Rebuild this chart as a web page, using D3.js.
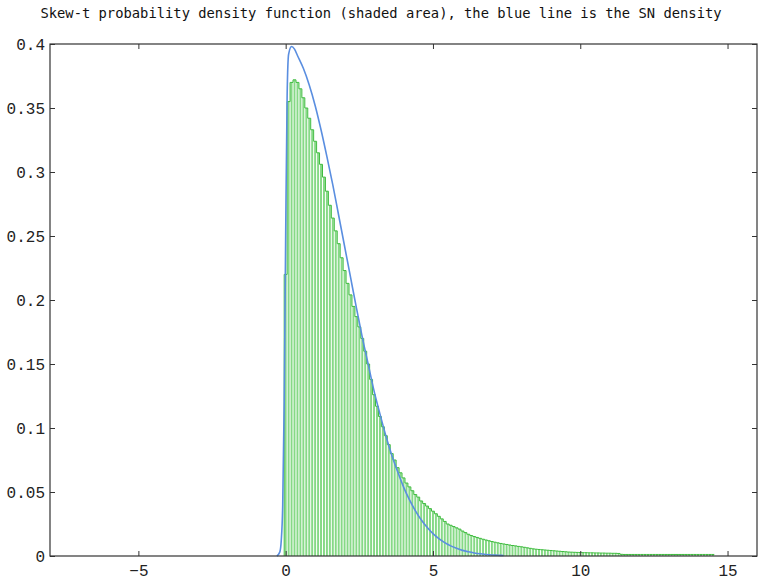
<!DOCTYPE html>
<html>
<head>
<meta charset="utf-8">
<script src="https://cdn.jsdelivr.net/npm/d3@7"></script>
<style>
  body { margin: 0; background: #fff; }
</style>
</head>
<body>
<div id="chart"></div>
<script>
// skew-t density, one value per bin (bins 0.1 wide, first bin centred on 0)
const binStart = 0, binWidth = 0.1;
const stDensity = [
  0.22, 0.355, 0.370, 0.372, 0.370, 0.365, 0.358, 0.350, 0.342, 0.333,
  0.324, 0.315, 0.306, 0.296, 0.285, 0.274, 0.264, 0.254, 0.244, 0.233,
  0.223, 0.213, 0.204, 0.195, 0.187, 0.179, 0.170, 0.160, 0.150, 0.138,
  0.126, 0.117, 0.109, 0.101, 0.094, 0.087, 0.080, 0.075, 0.069, 0.065,
  0.061, 0.057, 0.054, 0.051, 0.048, 0.046, 0.043, 0.041, 0.039, 0.037,
  0.035, 0.033, 0.031, 0.029, 0.027, 0.025, 0.024, 0.023, 0.022, 0.021,
  0.0195, 0.0183, 0.0170, 0.0160, 0.0152, 0.0145, 0.0138, 0.0131, 0.0125, 0.0119,
  0.0113, 0.0108, 0.0103, 0.0098, 0.0094, 0.0090, 0.0086, 0.0082, 0.0079, 0.0075,
  0.0072, 0.0068, 0.0064, 0.0060, 0.0056, 0.0053, 0.0051, 0.0049, 0.0047, 0.0045,
  0.0043, 0.0041, 0.0039, 0.0037, 0.0035, 0.0033, 0.0031, 0.0030, 0.0029, 0.0028,
  0.0027, 0.0026, 0.0026, 0.0025, 0.0025, 0.0024, 0.0024, 0.0023, 0.0023, 0.0022,
  0.0022, 0.0021, 0.0021, 0.0020, 0.0013, 0.0012, 0.0012, 0.0012, 0.0012, 0.0012,
  0.0012, 0.0012, 0.0012, 0.0012, 0.0012, 0.0012, 0.0012, 0.0012, 0.0012, 0.0012,
  0.0012, 0.0012, 0.0012, 0.0012, 0.0012, 0.0012, 0.0012, 0.0012, 0.0012, 0.0012,
  0.0012, 0.0012, 0.0012, 0.0012, 0.0012, 0.0012
];

// skew-normal density (blue line)
const snX = [-0.3, -0.2, -0.15, -0.1, -0.05, 0, 0.05, 0.1, 0.2, 0.3, 0.4, 0.6, 0.8, 1.0,
  1.2, 1.4, 1.6, 1.8, 2.0, 2.2, 2.4, 2.6, 2.8, 3.0, 3.2, 3.4, 3.6, 3.8, 4.0, 4.2, 4.4,
  4.6, 4.8, 5.0, 5.2, 5.4, 5.6, 5.8, 6.0, 6.2, 6.4, 6.6, 6.8, 7.0, 7.2, 7.4];
const snY = [0, 0.003, 0.012, 0.04, 0.12, 0.25, 0.36, 0.392, 0.398, 0.396, 0.391, 0.381, 0.368, 0.352,
  0.333, 0.312, 0.290, 0.266, 0.242, 0.218, 0.194, 0.171, 0.150, 0.129, 0.111, 0.094, 0.079, 0.066, 0.054, 0.044, 0.0355,
  0.0283, 0.0224, 0.0175, 0.0136, 0.0104, 0.0079, 0.0060, 0.0044, 0.0033, 0.0024, 0.0017, 0.0012, 0.0008, 0.0006, 0.0004];

const xTicks = [-5, 0, 5, 10, 15];
const yTicks = [0, 0.05, 0.1, 0.15, 0.2, 0.25, 0.3, 0.35, 0.4];
const yTickLabels = ["0", "0.05", "0.1", "0.15", "0.2", "0.25", "0.3", "0.35", "0.4"];
const title = "Skew-t probability density function (shaded area), the blue line is the SN density";

var margin = {top: 44, right: 6, bottom: 29, left: 50},
    width = 763 - margin.left - margin.right,
    height = 585 - margin.top - margin.bottom;

var root = d3.select("#chart")
  .append("svg")
  .attr("width", 763)
  .attr("height", 585);

root.append("text")
  .attr("x", 381)
  .attr("y", 18)
  .attr("text-anchor", "middle")
  .attr("font-family", "DejaVu Sans Mono")
  .attr("font-size", "13.8px")
  .attr("fill", "#111")
  .text(title);

var svg = root.append("g")
  .attr("transform", "translate(" + margin.left + "," + margin.top + ")");

const x = d3.scaleLinear().domain([-8, 16]).range([0, width]);
const y = d3.scaleLinear().domain([0, 0.4]).range([height, 0]);

const bins = stDensity.map((v, i) => ({c: binStart + i * binWidth, v: v}));
const barW = x(binWidth) - x(0);

// shaded bars
svg.selectAll(".bar")
  .data(bins)
  .enter()
  .append("rect")
  .attr("class", "bar")
  .attr("x", d => x(d.c - binWidth / 2) + 0.5)
  .attr("y", d => y(d.v))
  .attr("width", barW - 1)
  .attr("height", d => y(0) - y(d.v))
  .style("fill", "#86d986");

// darker outline over the bar tops
const stepPts = [{c: bins[0].c - binWidth / 2, v: 0}]
  .concat(bins.map(d => ({c: d.c - binWidth / 2, v: d.v})))
  .concat([{c: bins[bins.length - 1].c + binWidth / 2, v: bins[bins.length - 1].v}]);

svg.append("path")
  .datum(stepPts)
  .attr("d", d3.line().x(d => x(d.c)).y(d => y(d.v)).curve(d3.curveStepAfter))
  .style("fill", "none")
  .style("stroke", "#3dbb3d")
  .style("stroke-width", 1);

// SN density
svg.append("path")
  .datum(snX.map((d, i) => [d, snY[i]]))
  .attr("d", d3.line().x(d => x(d[0])).y(d => y(d[1])).curve(d3.curveMonotoneX))
  .style("fill", "none")
  .style("stroke", "#5a8ee0")
  .style("stroke-width", 1.6);

// axes, ticks pointing inside
const axisColor = "#333";
function styleAxis(g) {
  g.select(".domain").remove();
  g.selectAll("line").style("stroke", axisColor);
  g.selectAll("text")
    .attr("font-family", "Liberation Mono")
    .attr("font-size", "16px")
    .attr("fill", "#222");
}

svg.append("g")
  .attr("transform", "translate(0," + height + ")")
  .call(d3.axisBottom(x).tickValues(xTicks).tickSizeInner(-5).tickSizeOuter(0).tickPadding(9))
  .call(styleAxis);

svg.append("g")
  .call(d3.axisTop(x).tickValues(xTicks).tickSizeInner(-5).tickSizeOuter(0).tickFormat(""))
  .call(styleAxis);

svg.append("g")
  .call(d3.axisLeft(y).tickValues(yTicks).tickSizeInner(-5).tickSizeOuter(0).tickPadding(5)
    .tickFormat((d, i) => yTickLabels[i]))
  .call(styleAxis);

svg.append("g")
  .attr("transform", "translate(" + width + ",0)")
  .call(d3.axisRight(y).tickValues(yTicks).tickSizeInner(-5).tickSizeOuter(0).tickFormat(""))
  .call(styleAxis);

svg.append("rect")
  .attr("x", 0)
  .attr("y", 0)
  .attr("width", width)
  .attr("height", height)
  .style("fill", "none")
  .style("stroke", axisColor)
  .style("stroke-width", 1.2);
</script>
</body>
</html>
